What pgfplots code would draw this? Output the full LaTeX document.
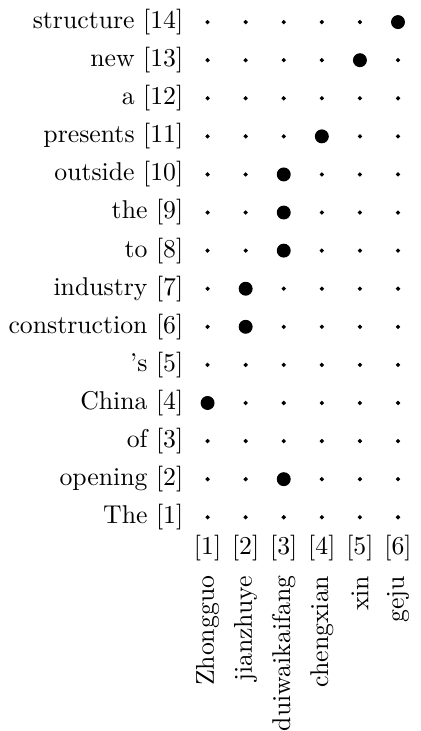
\documentclass[border=0pt]{standalone}
\usepackage{pgfplots}
\pgfplotsset{compat=1.18}
\begin{document}
\begin{tikzpicture}
\begin{axis}[
  x=14.8pt, y=14.8pt,
  xmin=0.6, xmax=6.37, ymin=0.78, ymax=14.58,
  clip=false,
  axis line style={draw=none},
  tick style={draw=none},
  xtick={1,2,3,4,5,6},
  xticklabels={{[1]},{[2]},{[3]},{[4]},{[5]},{[6]}},
  ytick={1,...,14},
  yticklabels={{The [1]},{opening [2]},{of [3]},{China [4]},{'s [5]},{construction [6]},{industry [7]},{to [8]},{the [9]},{outside [10]},{presents [11]},{a [12]},{new [13]},{structure [14]}},
]
\addplot[only marks, mark=*, mark size=0.6pt, black] coordinates {
(1,1)(2,1)(3,1)(4,1)(5,1)(6,1)
(1,2)(2,2)(3,2)(4,2)(5,2)(6,2)
(1,3)(2,3)(3,3)(4,3)(5,3)(6,3)
(1,4)(2,4)(3,4)(4,4)(5,4)(6,4)
(1,5)(2,5)(3,5)(4,5)(5,5)(6,5)
(1,6)(2,6)(3,6)(4,6)(5,6)(6,6)
(1,7)(2,7)(3,7)(4,7)(5,7)(6,7)
(1,8)(2,8)(3,8)(4,8)(5,8)(6,8)
(1,9)(2,9)(3,9)(4,9)(5,9)(6,9)
(1,10)(2,10)(3,10)(4,10)(5,10)(6,10)
(1,11)(2,11)(3,11)(4,11)(5,11)(6,11)
(1,12)(2,12)(3,12)(4,12)(5,12)(6,12)
(1,13)(2,13)(3,13)(4,13)(5,13)(6,13)
(1,14)(2,14)(3,14)(4,14)(5,14)(6,14)
};
\addplot[only marks, mark=*, mark size=2.5pt, black] coordinates {
(6,14)(5,13)(4,11)(3,10)(3,9)(3,8)(2,7)(2,6)(1,4)(3,2)
};
\node[rotate=90, anchor=east, inner sep=0pt] at ([yshift=-19.3pt]axis cs:1,0.78) {Zhongguo};
\node[rotate=90, anchor=east, inner sep=0pt] at ([yshift=-19.3pt]axis cs:2,0.78) {jianzhuye};
\node[rotate=90, anchor=east, inner sep=0pt] at ([yshift=-19.3pt]axis cs:3,0.78) {duiwaikaifang};
\node[rotate=90, anchor=east, inner sep=0pt] at ([yshift=-19.3pt]axis cs:4,0.78) {chengxian};
\node[rotate=90, anchor=east, inner sep=0pt] at ([yshift=-19.3pt]axis cs:5,0.78) {xin};
\node[rotate=90, anchor=east, inner sep=0pt] at ([yshift=-19.3pt]axis cs:6,0.78) {geju};
\end{axis}
\end{tikzpicture}
\end{document}
